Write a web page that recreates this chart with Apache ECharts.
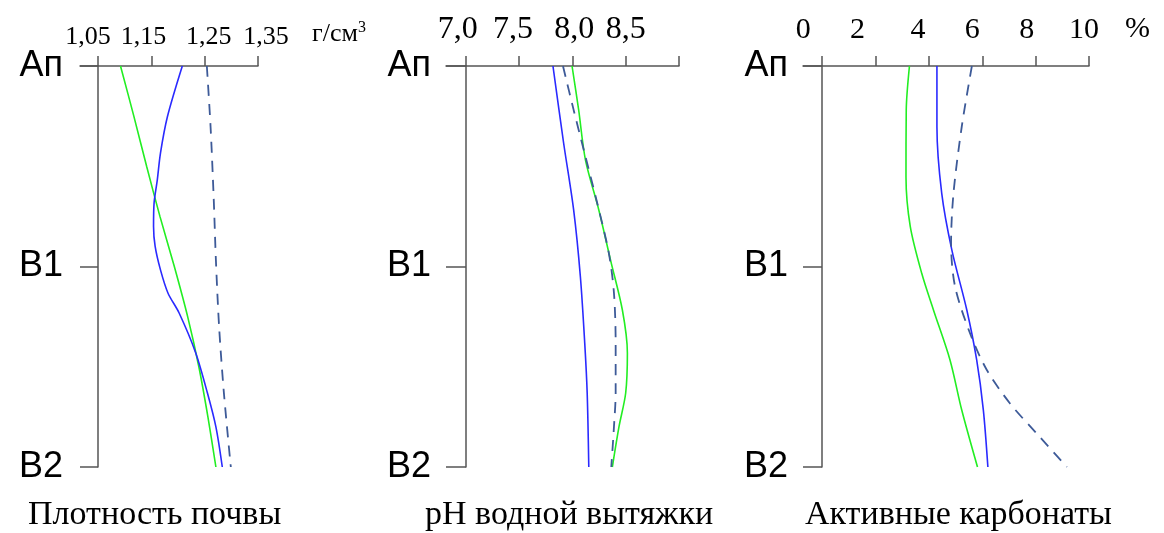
<!DOCTYPE html>
<html><head><meta charset="utf-8">
<script src="https://cdn.jsdelivr.net/npm/echarts@6/dist/echarts.min.js"></script>
<style>html,body{margin:0;padding:0;background:#fff}#c{width:1164px;height:533px}</style>
</head><body><div id="c"></div>
<script>
// ---- data ----
const horizons = ['Ап', 'В1', 'В2'];
const horizonDepths = [0, 1, 2];

// Panel 1: soil density
const densTicks = [1.05, 1.15, 1.25, 1.35];
const densTickLabels = ['1,05', '1,15', '1,25', '1,35'];
const densGreenDepth = [0, 0.25, 0.5, 0.75, 1.0, 1.25, 1.5, 1.75, 2];
const densGreen = [1.092, 1.117, 1.141, 1.166, 1.193, 1.218, 1.239, 1.256, 1.271];
const densBlueDepth = [0, 0.253, 0.434, 0.569, 0.683, 0.8, 0.9, 1.017, 1.132, 1.232, 1.43, 1.63, 1.8, 2];
const densBlue = [1.208, 1.180, 1.167, 1.161, 1.155, 1.154, 1.157, 1.167, 1.181, 1.202, 1.233, 1.255, 1.271, 1.283];
const densDashDepth = [0, 0.303, 0.668, 0.968, 1.3, 1.63, 2];
const densDash = [1.254, 1.261, 1.267, 1.271, 1.277, 1.286, 1.299];

// Panel 2: pH
const phTicks = [7.0, 7.5, 8.0, 8.5, 9.0];
const phLabelTicks = [7.0, 7.5, 8.0, 8.5];
const phTickLabels = ['7,0', '7,5', '8,0', '8,5'];
const phBlueDepth = [0, 0.384, 0.718, 1.05, 1.382, 1.631, 2];
const phBlue = [7.818, 7.918, 8.012, 8.075, 8.116, 8.139, 8.154];
const phGreenDepth = [0, 0.219, 0.469, 0.718, 0.968, 1.217, 1.431, 1.631, 1.8, 2];
const phGreen = [7.997, 8.059, 8.123, 8.248, 8.358, 8.469, 8.516, 8.500, 8.437, 8.375];
const phDashDepth = [0, 0.219, 0.419, 0.683, 0.933, 1.132, 1.382, 1.631, 1.8, 2];
const phDash = [7.912, 8.012, 8.107, 8.233, 8.342, 8.390, 8.406, 8.406, 8.390, 8.365];

// Panel 3: active carbonates
const carbTicks = [0, 2, 4, 6, 8, 10];
const carbTickLabels = ['0', '2', '4', '6', '8', '10'];
const carbGreenDepth = [0, 0.219, 0.552, 0.8, 1.034, 1.217, 1.466, 1.716, 2];
const carbGreen = [3.27, 3.15, 3.14, 3.30, 3.73, 4.17, 4.79, 5.23, 5.82];
const carbBlueDepth = [0, 0.303, 0.635, 0.918, 1.217, 1.466, 1.716, 2];
const carbBlue = [4.30, 4.30, 4.48, 4.86, 5.42, 5.79, 6.04, 6.21];
const carbDashDepth = [0, 0.303, 0.635, 0.884, 1.1, 1.333, 1.516, 1.683, 1.833, 2];
const carbDash = [5.61, 5.23, 4.92, 4.83, 4.98, 5.54, 6.17, 7.04, 8.04, 9.17];

const titles = ['Плотность почвы', 'pH водной вытяжки', 'Активные карбонаты'];

// ---- styling / layout ----
const axisColor = '#555';
const greenColor = '#22ee22';
const blueColor = '#2a2aff';
const dashColor = '#3d5a98';
const serif = 'Liberation Serif, Times New Roman, serif';
const sans = 'Liberation Sans, Arial, sans-serif';

const panels = [
  {grid: {left: 80, top: 66, width: 178, height: 401}, min: 1.016, max: 1.35, yOffset: -18,
   ticks: densTicks, labelTicks: densTicks, labels: densTickLabels, fontSize: 26, labelMargin: 16,
   shifts: [-10, -8, 4, 8], labelMarginY: 35,
   series: [[densGreen, densGreenDepth, 'g'], [densBlue, densBlueDepth, 'b'], [densDash, densDashDepth, 'd']]},
  {grid: {left: 446, top: 66, width: 233, height: 401}, min: 6.815, max: 9.0, yOffset: -20,
   ticks: phTicks, labelTicks: phLabelTicks, labels: phTickLabels, fontSize: 32, labelMargin: 20,
   shifts: [-8, -6, 2, 0], labelMarginY: 35,
   series: [[phBlue, phBlueDepth, 'b'], [phGreen, phGreenDepth, 'g'], [phDash, phDashDepth, 'd']]},
  {grid: {left: 803, top: 66, width: 286, height: 401}, min: -0.72, max: 10, yOffset: -19,
   ticks: carbTicks, labelTicks: carbTicks, labels: carbTickLabels, fontSize: 30, labelMargin: 21,
   shifts: [-19, -18, -11, -10, -9, -5], labelMarginY: 34,
   series: [[carbGreen, carbGreenDepth, 'g'], [carbBlue, carbBlueDepth, 'b'], [carbDash, carbDashDepth, 'd']]}
];

function makeRich(shifts, fontSize) {
  const rich = {};
  shifts.forEach((s, i) => {
    rich['s' + i] = {
      fontFamily: serif, fontSize: fontSize, color: '#000',
      padding: s >= 0 ? [0, 0, 0, 2 * s] : [0, -2 * s, 0, 0]
    };
  });
  return rich;
}

const grids = [], xAxes = [], yAxes = [], series = [];
panels.forEach((p, i) => {
  grids.push(Object.assign({outerBoundsMode: 'none', containLabel: false}, p.grid));
  xAxes.push({
    gridIndex: i, type: 'value', position: 'top', min: p.min, max: p.max,
    axisLine: {show: true, onZero: false, lineStyle: {color: axisColor, width: 1.5}},
    axisTick: {show: true, length: 10, customValues: p.ticks, lineStyle: {color: axisColor, width: 1.5}},
    axisLabel: {
      show: true, customValues: p.labelTicks, margin: p.labelMargin,
      fontFamily: serif, fontSize: p.fontSize, color: '#000',
      formatter: function (v) {
        const k = p.labelTicks.findIndex(t => Math.abs(t - v) < 1e-9);
        return k < 0 ? '' : '{s' + k + '|' + p.labels[k] + '}';
      },
      rich: makeRich(p.shifts, p.fontSize)
    },
    splitLine: {show: false}
  });
  yAxes.push({
    gridIndex: i, type: 'value', inverse: true, min: 0, max: 2, interval: 1,
    position: 'left', offset: p.yOffset,
    axisLine: {show: true, onZero: false, lineStyle: {color: axisColor, width: 1.5}},
    axisTick: {show: true, length: -p.yOffset, lineStyle: {color: axisColor, width: 1.5}},
    axisLabel: {
      show: true, margin: p.labelMarginY, fontFamily: sans, fontSize: 36, color: '#000',
      formatter: function (v) {
        const k = horizonDepths.indexOf(Math.round(v));
        return k < 0 ? '' : horizons[k];
      }
    },
    splitLine: {show: false}
  });
  p.series.forEach(([vals, depths, kind]) => {
    series.push({
      type: 'line', xAxisIndex: i, yAxisIndex: i,
      data: vals.map((v, j) => [v, depths[j]]),
      smooth: 0.3, symbol: 'none', silent: true,
      lineStyle: kind === 'd'
        ? {color: dashColor, width: 1.8, type: [11, 8]}
        : {color: kind === 'g' ? greenColor : blueColor, width: 1.6}
    });
  });
});

const chart = echarts.init(document.getElementById('c'), null, {renderer: 'canvas'});
chart.setOption({
  backgroundColor: '#fff',
  animation: false,
  grid: grids, xAxis: xAxes, yAxis: yAxes, series: series,
  title: [
    {text: titles[0], left: 28, top: 498, padding: 0, textStyle: {fontFamily: serif, fontSize: 34, fontWeight: 'normal', color: '#000'}},
    {text: titles[1], left: 425, top: 498, padding: 0, textStyle: {fontFamily: serif, fontSize: 34, fontWeight: 'normal', color: '#000'}},
    {text: titles[2], left: 805, top: 498, padding: 0, textStyle: {fontFamily: serif, fontSize: 34, fontWeight: 'normal', color: '#000'}},
    {text: 'г/см{s|3}', left: 312, top: 20, padding: 0,
     textStyle: {fontFamily: serif, fontSize: 26, fontWeight: 'normal', color: '#000',
       rich: {s: {fontFamily: serif, fontSize: 16, color: '#000', verticalAlign: 'top', padding: [0, 0, 12, 0]}}}},
    {text: '%', left: 1125, top: 14, padding: 0, textStyle: {fontFamily: serif, fontSize: 30, fontWeight: 'normal', color: '#000'}}
  ]
});
</script></body></html>
